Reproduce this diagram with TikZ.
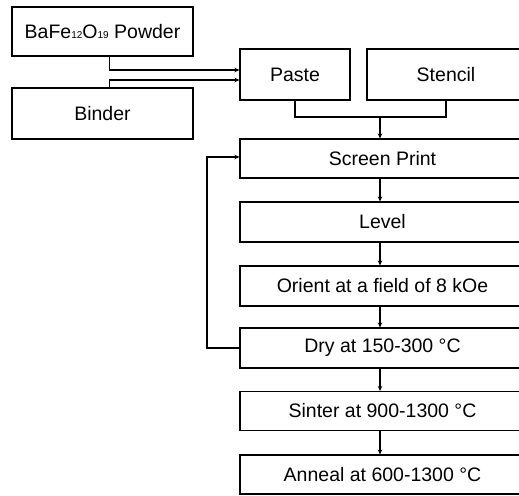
\documentclass[tikz,border=0pt]{standalone}
\usepackage{fontspec}
\setmainfont{Liberation Sans}
\usetikzlibrary{arrows.meta,calc}
\begin{document}
\begin{tikzpicture}[x=1pt,y=-1pt,
  box/.style={draw=black,line width=1.1pt,rectangle,inner sep=0pt,font=\fontsize{19.5}{19.5}\selectfont},
  conn/.style={draw=black,line width=1.1pt},
  arr/.style={conn,-{Stealth[length=5pt,width=4.5pt]}}]
\useasboundingbox (0,0) rectangle (519,495);
\newcommand{\sbs}[1]{{\fontsize{10}{10}\selectfont #1}}
\node[box,minimum width=181pt,minimum height=49pt] (bafe) at (102.5,31.5) {BaFe\sbs{12}O\sbs{19} Powder};
\node[box,minimum width=181pt,minimum height=51pt] (binder) at (102.5,113.5) {Binder};
\node[box,minimum width=110pt,minimum height=51pt] (paste) at (295,74.5) {Paste};
\node[box,minimum width=158pt,minimum height=51pt] (stencil) at (446,74.5) {Stencil};
\node[box,minimum width=285pt,minimum height=39pt] (screen) at (382.5,158.5) {Screen Print};
\node[box,minimum width=285pt,minimum height=40pt] (level) at (382.5,222) {Level};
\node[box,minimum width=285pt,minimum height=40pt] (orient) at (382.5,286) {Orient at a field of 8 kOe};
\node[box,minimum width=285pt,minimum height=40pt] (dry) at (382.5,348) {Dry at 150-300 \textdegree C};
\node[box,minimum width=285pt,minimum height=39pt] (sinter) at (382.5,411) {Sinter at 900-1300 \textdegree C};
\node[box,minimum width=285pt,minimum height=39pt] (anneal) at (382.5,474.5) {Anneal at 600-1300 \textdegree C};
% inputs to paste
\draw[arr] ([xshift=98pt]bafe.south west) |- ([yshift=4.5pt]paste.west);
\draw[arr] ([xshift=98pt]binder.north west) |- ([yshift=-5.5pt]paste.west);
% paste + stencil join
\coordinate (j) at (380,117);
\draw[conn] (paste.south) |- (stencil.south |- j) -- (stencil.south);
\draw[arr] (j) -- (j |- screen.north);
% chain
\draw[arr] (j |- screen.south) -- (j |- level.north);
\draw[arr] (j |- level.south) -- (j |- orient.north);
\draw[arr] (j |- orient.south) -- (j |- dry.north);
\draw[arr] (j |- dry.south) -- (j |- sinter.north);
\draw[arr] (j |- sinter.south) -- (j |- anneal.north);
% feedback loop
\coordinate (fb) at (207,348);
\draw[arr] (dry.west) -- (fb) |- ([yshift=1.5pt]screen.west);
\end{tikzpicture}
\end{document}
